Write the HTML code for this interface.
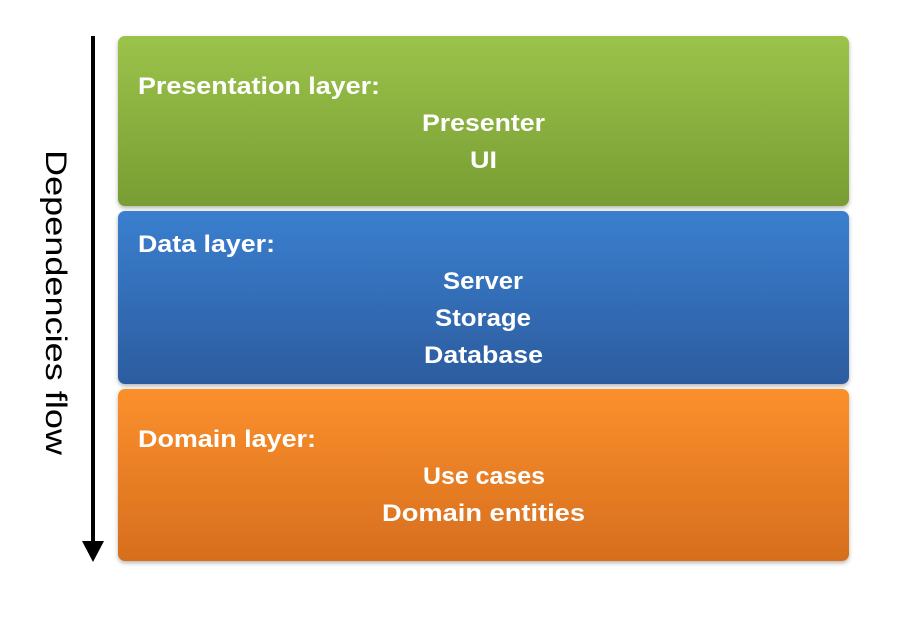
<!DOCTYPE html>
<html><head><style>body{margin:0;background:#fff}</style></head><body>
<svg width="910" height="619" xmlns="http://www.w3.org/2000/svg" font-family="Liberation Sans, sans-serif">
<defs>
<linearGradient id="g" x1="0" y1="0" x2="0" y2="1"><stop offset="0" stop-color="#9bc34a"/><stop offset="1" stop-color="#789d33"/></linearGradient>
<linearGradient id="b" x1="0" y1="0" x2="0" y2="1"><stop offset="0" stop-color="#3a7fcf"/><stop offset="1" stop-color="#2c5c9f"/></linearGradient>
<linearGradient id="o" x1="0" y1="0" x2="0" y2="1"><stop offset="0" stop-color="#fb902c"/><stop offset="1" stop-color="#d66e1e"/></linearGradient>
<filter id="s" x="-5%" y="-5%" width="110%" height="115%"><feDropShadow dx="0" dy="2" stdDeviation="2" flood-color="#000" flood-opacity="0.3"/></filter>
</defs>
<rect x="118" y="36" width="731" height="170" rx="7" fill="url(#g)" filter="url(#s)"/>
<rect x="118" y="211" width="731" height="173" rx="7" fill="url(#b)" filter="url(#s)"/>
<rect x="118" y="389" width="731" height="172" rx="7" fill="url(#o)" filter="url(#s)"/>
<rect x="91" y="36" width="4" height="508" fill="#000"/>
<polygon points="82,541 104,541 93,562" fill="#000"/>
<text transform="translate(46,150) rotate(90)" font-size="30" textLength="305" lengthAdjust="spacingAndGlyphs">Dependencies flow</text>
<g fill="#fff" font-weight="bold" font-size="24">
<text x="138" y="94" textLength="242" lengthAdjust="spacingAndGlyphs">Presentation layer:</text>
<text x="422" y="131" textLength="123" lengthAdjust="spacingAndGlyphs">Presenter</text>
<text x="470" y="168" textLength="27" lengthAdjust="spacingAndGlyphs">UI</text>
<text x="138" y="252" textLength="137" lengthAdjust="spacingAndGlyphs">Data layer:</text>
<text x="443" y="289" textLength="80" lengthAdjust="spacingAndGlyphs">Server</text>
<text x="435" y="326" textLength="96" lengthAdjust="spacingAndGlyphs">Storage</text>
<text x="424" y="363" textLength="119" lengthAdjust="spacingAndGlyphs">Database</text>
<text x="138" y="447" textLength="178" lengthAdjust="spacingAndGlyphs">Domain layer:</text>
<text x="423" y="484" textLength="122" lengthAdjust="spacingAndGlyphs">Use cases</text>
<text x="382" y="521" textLength="203" lengthAdjust="spacingAndGlyphs">Domain entities</text>
</g>
</svg>
</body></html>
